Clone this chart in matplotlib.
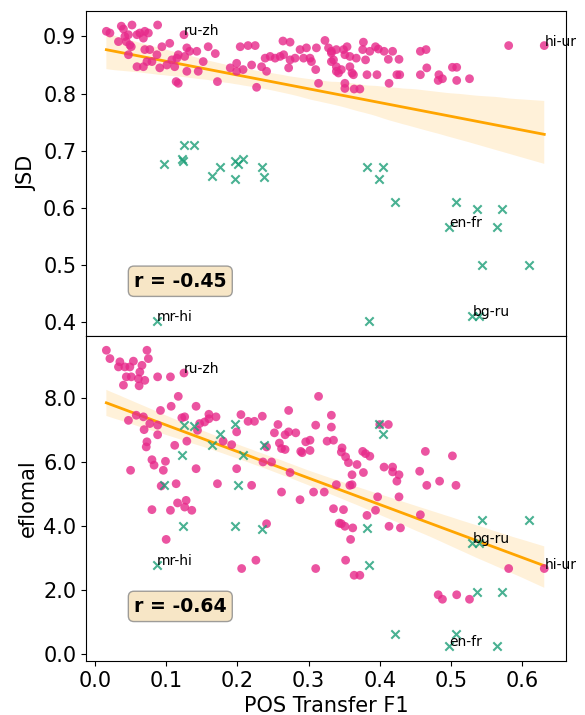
import matplotlib
matplotlib.use("Agg")
import matplotlib.pyplot as plt
import numpy as np
import seaborn as sns

# pink dots, top panel (POS transfer F1 vs JSD)
jsd_x = [0.016, 0.021, 0.037, 0.040, 0.052, 0.042, 0.047, 0.059, 0.063, 0.070,
         0.068, 0.075, 0.088, 0.033, 0.044, 0.049, 0.051, 0.047, 0.059, 0.068,
         0.070, 0.077, 0.073, 0.080, 0.087, 0.091, 0.094, 0.105, 0.101, 0.112,
         0.108, 0.115, 0.117, 0.129, 0.133, 0.126, 0.129, 0.143, 0.145, 0.152,
         0.159, 0.169, 0.114, 0.117, 0.172, 0.204, 0.215, 0.225, 0.199, 0.190,
         0.199, 0.208, 0.220, 0.234, 0.241, 0.227, 0.239, 0.246, 0.253, 0.260,
         0.265, 0.264, 0.274, 0.272, 0.274, 0.281, 0.288, 0.293, 0.297, 0.302,
         0.311, 0.304, 0.310, 0.314, 0.323, 0.328, 0.332, 0.335, 0.339, 0.339,
         0.342, 0.125,
         0.332, 0.332, 0.339, 0.346, 0.349, 0.354, 0.351, 0.358, 0.367, 0.358,
         0.361, 0.363, 0.351, 0.351, 0.364, 0.372, 0.376, 0.377, 0.380, 0.382,
         0.386, 0.394, 0.398, 0.406, 0.418, 0.412, 0.427, 0.396, 0.424, 0.428,
         0.413, 0.457, 0.465, 0.466, 0.457, 0.483, 0.482, 0.488, 0.502, 0.508,
         0.508, 0.526, 0.581, 0.631]
jsd_y = [0.909, 0.906, 0.918, 0.913, 0.920, 0.900, 0.903, 0.903, 0.906, 0.909,
         0.897, 0.906, 0.920, 0.891, 0.891, 0.885, 0.882, 0.868, 0.847, 0.847,
         0.877, 0.877, 0.856, 0.856, 0.868, 0.845, 0.882, 0.888, 0.850, 0.847,
         0.859, 0.862, 0.868, 0.880, 0.874, 0.865, 0.839, 0.874, 0.839, 0.856,
         0.882, 0.870, 0.821, 0.818, 0.821, 0.882, 0.884, 0.884, 0.853, 0.845,
         0.839, 0.842, 0.850, 0.847, 0.839, 0.811, 0.862, 0.865, 0.862, 0.865,
         0.868, 0.892, 0.890, 0.845, 0.859, 0.862, 0.877, 0.862, 0.880, 0.862,
         0.880, 0.856, 0.842, 0.818, 0.893, 0.880, 0.871, 0.859, 0.877, 0.847,
         0.836, 0.903,
         0.874, 0.856, 0.839, 0.842, 0.877, 0.882, 0.868, 0.865, 0.862, 0.847,
         0.836, 0.833, 0.818, 0.809, 0.808, 0.808, 0.877, 0.890, 0.859, 0.833,
         0.874, 0.882, 0.878, 0.874, 0.874, 0.860, 0.860, 0.833, 0.833, 0.833,
         0.818, 0.874, 0.877, 0.845, 0.833, 0.833, 0.823, 0.826, 0.846, 0.846,
         0.823, 0.826, 0.884, 0.884]

# pink dots, bottom panel (POS transfer F1 vs eflomal)
efl_x = [0.016, 0.021, 0.035, 0.033, 0.042, 0.054, 0.049, 0.073, 0.075, 0.066,
         0.063, 0.044, 0.051, 0.061, 0.070, 0.040, 0.062, 0.088, 0.106, 0.125,
         0.117, 0.107, 0.092, 0.142, 0.047, 0.058, 0.068, 0.069, 0.077, 0.088,
         0.088, 0.073, 0.072, 0.112, 0.129, 0.080, 0.083, 0.099, 0.096, 0.050,
         0.093, 0.114, 0.080, 0.106, 0.116, 0.128, 0.126, 0.136, 0.122, 0.126,
         0.147, 0.160, 0.170, 0.160, 0.142, 0.154, 0.144, 0.172, 0.180, 0.192,
         0.199, 0.205, 0.199, 0.220, 0.215, 0.224, 0.235, 0.241, 0.252, 0.257,
         0.267, 0.272, 0.272, 0.282, 0.259, 0.262, 0.267, 0.236, 0.248, 0.274,
         0.262, 0.289, 0.291, 0.296, 0.302, 0.302, 0.288, 0.307, 0.322, 0.314,
         0.310, 0.332, 0.332, 0.326, 0.335, 0.339, 0.335, 0.241, 0.100, 0.206,
         0.226, 0.310, 0.343,
         0.347, 0.346, 0.352, 0.356, 0.368, 0.376, 0.380, 0.386, 0.361, 0.377,
         0.358, 0.361, 0.400, 0.412, 0.406, 0.418, 0.418, 0.427, 0.424, 0.464,
         0.502, 0.456, 0.466, 0.484, 0.507, 0.397, 0.427, 0.394, 0.457, 0.382,
         0.349, 0.346, 0.351, 0.362, 0.413, 0.429, 0.359, 0.352, 0.364, 0.372,
         0.482, 0.488, 0.508, 0.526, 0.581, 0.631]
efl_y = [9.49, 9.23, 9.13, 8.97, 8.97, 9.15, 8.97, 9.49, 9.23, 9.02,
         8.81, 8.66, 8.66, 8.60, 8.55, 8.40, 8.38, 8.66, 8.66, 8.78,
         8.05, 7.74, 7.61, 7.74, 7.30, 7.46, 7.41, 7.01, 7.20, 7.15,
         6.85, 6.63, 6.47, 6.52, 6.65, 6.07, 5.90, 6.02, 5.74, 5.74,
         5.25, 5.32, 4.51, 4.49, 4.72, 4.80, 4.59, 4.49, 7.38, 7.41,
         7.20, 7.49, 7.41, 7.35, 5.79, 7.25, 6.99, 5.32, 6.65, 6.54,
         6.94, 7.48, 5.79, 5.27, 7.27, 7.27, 7.43, 6.47, 6.91, 7.17,
         6.85, 6.94, 7.61, 6.91, 6.59, 6.42, 6.39, 6.00, 6.00, 5.67,
         5.06, 6.33, 6.29, 6.63, 6.68, 6.36, 4.82, 5.06, 5.06, 8.05,
         7.15, 7.46, 7.09, 6.65, 6.68, 5.29, 4.54, 4.07, 3.58, 2.67,
         2.93, 2.67, 4.09,
         6.44, 6.31, 6.16, 5.98, 5.92, 6.33, 6.26, 6.18, 5.60, 5.67,
         5.27, 5.29, 7.17, 7.17, 5.84, 5.84, 5.69, 5.60, 5.40, 6.33,
         6.19, 5.71, 5.27, 5.40, 5.27, 4.91, 4.91, 4.49, 4.35, 4.33,
         4.51, 4.07, 3.99, 3.94, 3.99, 3.94, 3.58, 2.93, 2.46, 2.46,
         1.85, 1.71, 1.85, 1.71, 2.67, 2.67]

# green crosses (same pairs in both panels)
cross_x = [0.125, 0.139, 0.097, 0.122, 0.124, 0.176, 0.164, 0.196, 0.201, 0.208,
           0.196, 0.235, 0.238, 0.087, 0.382, 0.405, 0.399, 0.421, 0.507, 0.537,
           0.572, 0.497, 0.564, 0.544, 0.609, 0.385, 0.530, 0.540]
cross_jsd = [0.710, 0.710, 0.677, 0.686, 0.682, 0.672, 0.655, 0.682, 0.677, 0.686,
             0.651, 0.671, 0.654, 0.402, 0.671, 0.672, 0.650, 0.610, 0.610, 0.598,
             0.598, 0.567, 0.567, 0.500, 0.500, 0.402, 0.410, 0.410]
cross_efl = [7.15, 7.12, 5.29, 6.21, 4.01, 6.86, 6.52, 7.20, 5.29, 6.21,
             4.01, 3.92, 6.54, 2.79, 3.93, 6.86, 7.20, 0.62, 0.62, 1.94,
             1.94, 0.25, 0.25, 4.18, 4.18, 2.79, 3.47, 3.47]

# labelled pairs: (name, x, jsd, eflomal)
labels = ["ru-zh", "hi-ur", "mr-hi", "en-fr", "bg-ru"]
label_x = [0.125, 0.631, 0.087, 0.497, 0.530]
label_jsd = [0.903, 0.884, 0.402, 0.567, 0.410]
label_efl = [8.78, 2.67, 2.79, 0.25, 3.47]

r_values = [-0.45, -0.64]

pink = "#e7298a"
green = "#1b9e77"

fig, axes = plt.subplots(2, 1, sharex=True, figsize=(5.85, 7.15), dpi=100)
fig.subplots_adjust(left=0.147, right=0.9675, top=0.985, bottom=0.0755, hspace=0)

panels = [(jsd_x, jsd_y, cross_jsd, label_jsd, "JSD"),
          (efl_x, efl_y, cross_efl, label_efl, "eflomal")]

for i, (px, py, cy, ly, name) in enumerate(panels):
    ax = axes[i]
    ax.scatter(px, py, color=pink, alpha=0.8, s=40, edgecolors="none", zorder=3)
    ax.scatter(cross_x, cy, color=green, alpha=0.8, marker="x", s=36, zorder=3)

    all_x = np.array(list(px) + list(cross_x))
    all_y = np.array(list(py) + list(cy))
    sns.regplot(x=all_x, y=all_y, scatter=False, ax=ax, color="orange",
                line_kws={"lw": 2}, seed=0)

    for lab, lx, lyy in zip(labels, label_x, ly):
        ax.text(lx, lyy, lab, fontsize=10, zorder=5)

    ax.text(0.1, 0.168, "r = %.2f" % r_values[i], transform=ax.transAxes,
            fontsize=13.6, fontweight="bold", va="center",
            bbox=dict(boxstyle="round", facecolor="wheat", edgecolor="gray", alpha=0.75))

    ax.set_ylabel(name, fontsize=15)
    ax.tick_params(labelsize=15)

axes[0].set_ylim(0.376, 0.945)
axes[0].set_yticks([0.4, 0.5, 0.6, 0.7, 0.8, 0.9])
axes[0].tick_params(axis="x", length=0)
axes[1].set_ylim(-0.22, 9.94)
axes[1].set_yticks([0, 2, 4, 6, 8])
axes[1].yaxis.set_major_formatter(matplotlib.ticker.FormatStrFormatter("%.1f"))
axes[1].set_xlim(-0.0126, 0.6615)
axes[1].set_xlabel("POS Transfer F1", fontsize=15)

plt.savefig("out.png")
